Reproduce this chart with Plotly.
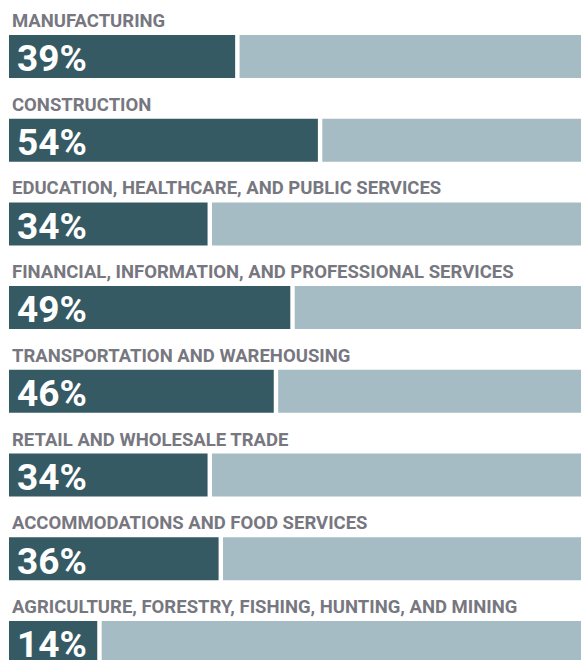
import plotly.graph_objects as go

categories = [
    "MANUFACTURING",
    "CONSTRUCTION",
    "EDUCATION, HEALTHCARE, AND PUBLIC SERVICES",
    "FINANCIAL, INFORMATION, AND PROFESSIONAL SERVICES",
    "TRANSPORTATION AND WAREHOUSING",
    "RETAIL AND WHOLESALE TRADE",
    "ACCOMMODATIONS AND FOOD SERVICES",
    "AGRICULTURE, FORESTRY, FISHING, HUNTING, AND MINING",
]
values = [39, 54, 34, 49, 46, 34, 36, 14]

DARK = "#365a63"
LIGHT = "#a5bcc4"
GRAY = "#77777f"
FONT = "Roboto, Liberation Sans, sans-serif"

X0 = -2.0      # left end of bars
XMAX = 101.7   # right edge of plot
GAP = 0.8
BAR_W = 0.514

ys = list(range(len(categories)))

fig = go.Figure()
fig.add_trace(go.Bar(
    y=ys, x=[v - X0 for v in values], base=[X0] * len(values),
    orientation="h", marker=dict(color=DARK, line=dict(width=0)),
    width=BAR_W, hoverinfo="skip", showlegend=False,
))
fig.add_trace(go.Bar(
    y=ys, x=[120 - (v + GAP) for v in values], base=[v + GAP for v in values],
    orientation="h", marker=dict(color=LIGHT, line=dict(width=0)),
    width=BAR_W, hoverinfo="skip", showlegend=False,
))

annotations = []
for i, (cat, v) in enumerate(zip(categories, values)):
    annotations.append(dict(
        x=X0, y=i, xref="x", yref="y", text=f"<b>{cat}</b>",
        showarrow=False, xanchor="left", yanchor="middle",
        xshift=1, yshift=35.5,
        font=dict(family=FONT, size=18.5, color=GRAY),
    ))
    annotations.append(dict(
        x=X0, y=i, xref="x", yref="y", text=f"<b>{v}%</b>",
        showarrow=False, xanchor="left", yanchor="middle",
        xshift=6, yshift=-2.3,
        font=dict(family=FONT, size=37, color="white"),
    ))

fig.update_layout(
    width=581, height=660,
    margin=dict(l=9, r=0, t=0, b=0),
    paper_bgcolor="white", plot_bgcolor="white",
    barmode="overlay",
    xaxis=dict(range=[X0, XMAX], visible=False, fixedrange=True),
    yaxis=dict(range=[7.21, -0.675], visible=False, fixedrange=True),
    annotations=annotations,
)

fig.write_html(
    "out.html",
    config={"displayModeBar": False, "staticPlot": True},
    post_script="document.body.style.margin='0';document.body.style.overflow='hidden';",
)
